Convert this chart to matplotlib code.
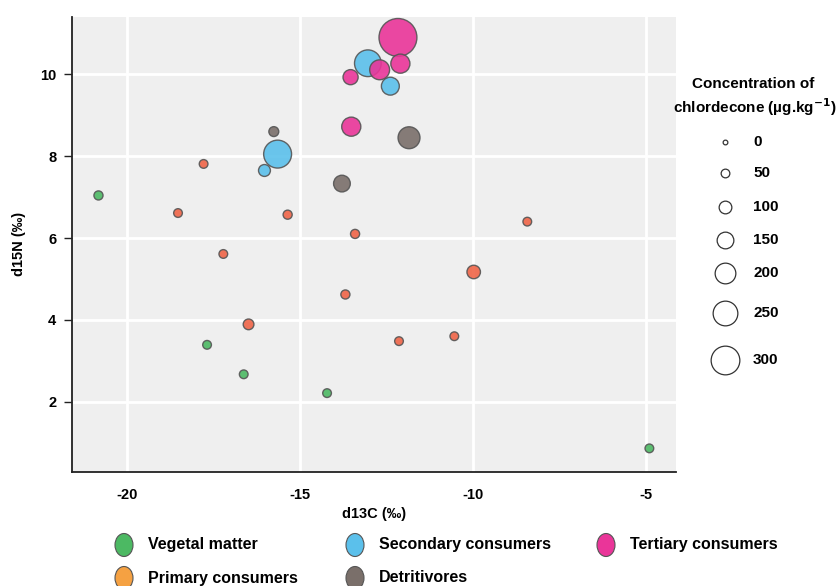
import matplotlib
matplotlib.use("Agg")
import matplotlib.pyplot as plt
from matplotlib.patches import Ellipse

plt.rcParams['font.family'] = ['Liberation Sans', 'DejaVu Sans']
plt.rcParams['font.weight'] = 'bold'
plt.rcParams['axes.unicode_minus'] = False

# ---- data ----
categories = ["Vegetal matter", "Primary consumers", "Secondary consumers",
              "Detritivores", "Tertiary consumers"]
colors = ["#4cb963", "#ef6548", "#5bc0eb", "#7a6f6a", "#ea3599"]
legend_colors = ["#4cb963", "#f5a142", "#5bc0eb", "#7a6f6a", "#ea3599"]

veg_x = [-20.82, -17.68, -16.62, -14.21, -4.89]
veg_y = [7.04, 3.39, 2.67, 2.21, 0.86]
veg_c = [55, 50, 50, 50, 50]

prim_x = [-17.78, -18.52, -15.35, -13.40, -17.21, -13.68, -16.48, -12.13, -10.53, -9.97, -8.42]
prim_y = [7.81, 6.61, 6.57, 6.10, 5.61, 4.62, 3.89, 3.48, 3.60, 5.17, 6.40]
prim_c = [50, 50, 55, 55, 50, 55, 75, 50, 50, 110, 50]

sec_x = [-13.03, -12.38, -15.64, -16.02]
sec_y = [10.27, 9.71, 8.05, 7.65]
sec_c = [275, 165, 290, 90]

det_x = [-11.84, -15.75, -13.78]
det_y = [8.45, 8.60, 7.33]
det_c = [215, 65, 150]

ter_x = [-12.16, -12.69, -12.09, -13.53, -13.51]
ter_y = [10.90, 10.11, 10.26, 9.93, 8.72]
ter_c = [415, 190, 180, 130, 180]

size_legend_values = [0, 50, 100, 150, 200, 250, 300]
x_ticks = [-20, -15, -10, -5]
y_ticks = [2, 4, 6, 8, 10]

series = [(veg_x, veg_y, veg_c), (prim_x, prim_y, prim_c), (sec_x, sec_y, sec_c),
          (det_x, det_y, det_c), (ter_x, ter_y, ter_c)]


def size_pts2(c):
    d_px = 4.7 + 0.08 * c
    return (d_px * 0.72) ** 2


fig = plt.figure(figsize=(8.36, 5.86), dpi=100)
W, H = 836, 586
ax = fig.add_axes([71.5 / W, 1 - 471.7 / H, (676 - 71.5) / W, (471.7 - 17) / H])
ax.set_facecolor("#efefef")
ax.set_xlim(-21.6, -4.12)
ax.set_ylim(0.29, 11.40)
ax.set_xticks(x_ticks)
ax.set_yticks(y_ticks)
ax.grid(True, color="white", linewidth=2)
ax.set_axisbelow(True)
for s in ["top", "right"]:
    ax.spines[s].set_visible(False)
for s in ["left", "bottom"]:
    ax.spines[s].set_color("#222222")
    ax.spines[s].set_linewidth(1.3)
ax.tick_params(axis="x", length=0, pad=12, labelsize=10.5)
ax.tick_params(axis="y", length=6, width=1, color="#222222", labelsize=10.5, pad=5)
for lab in ax.get_xticklabels() + ax.get_yticklabels():
    lab.set_fontweight("bold")
ax.set_xlabel("d13C (‰)", fontsize=10.5, fontweight="bold", labelpad=3)
ax.set_ylabel("d15N (‰)", fontsize=10.5, fontweight="bold", labelpad=10)

for (xs, ys, cs), col in zip(series, colors):
    ax.scatter(xs, ys, s=[size_pts2(c) for c in cs], c=col, alpha=0.9,
               edgecolors="#555555", linewidths=1.0, zorder=3)

# size legend
fig.text(753 / W, 1 - 84 / H, "Concentration of", ha="center", va="center",
         fontsize=11, fontweight="bold")
fig.text(755 / W, 1 - 107 / H, "chlordecone (µg.kg$^{\\mathbf{-1}}$)", ha="center",
         va="center", fontsize=11, fontweight="bold")
leg_y = [141.7, 172.7, 207, 240, 273, 312.7, 360]
for v, yy in zip(size_legend_values, leg_y):
    fig.add_artist(plt.Line2D([725 / W], [1 - yy / H], marker="o", linestyle="",
                              markersize=(4.7 + 0.08 * v) * 0.72,
                              markerfacecolor="white", markeredgecolor="#333333",
                              markeredgewidth=0.9, transform=fig.transFigure))
    fig.text(753 / W, 1 - yy / H, str(v), ha="left", va="center",
             fontsize=11, fontweight="bold")

# category legend (3 columns, filled column-wise)
col_x = [124, 355, 606]
row_y = [545, 578]
for i, (name, lc) in enumerate(zip(categories, legend_colors)):
    cx = col_x[i // 2]
    cy = row_y[i % 2]
    fig.add_artist(Ellipse((cx / W, 1 - cy / H), 18 / W, 23 / H,
                           facecolor=lc, edgecolor="#555555", linewidth=0.8,
                           transform=fig.transFigure))
    fig.text((cx + 24) / W, 1 - cy / H, name, ha="left", va="center",
             fontsize=11.5, fontweight="bold")

fig.savefig("out.png", dpi=100)
